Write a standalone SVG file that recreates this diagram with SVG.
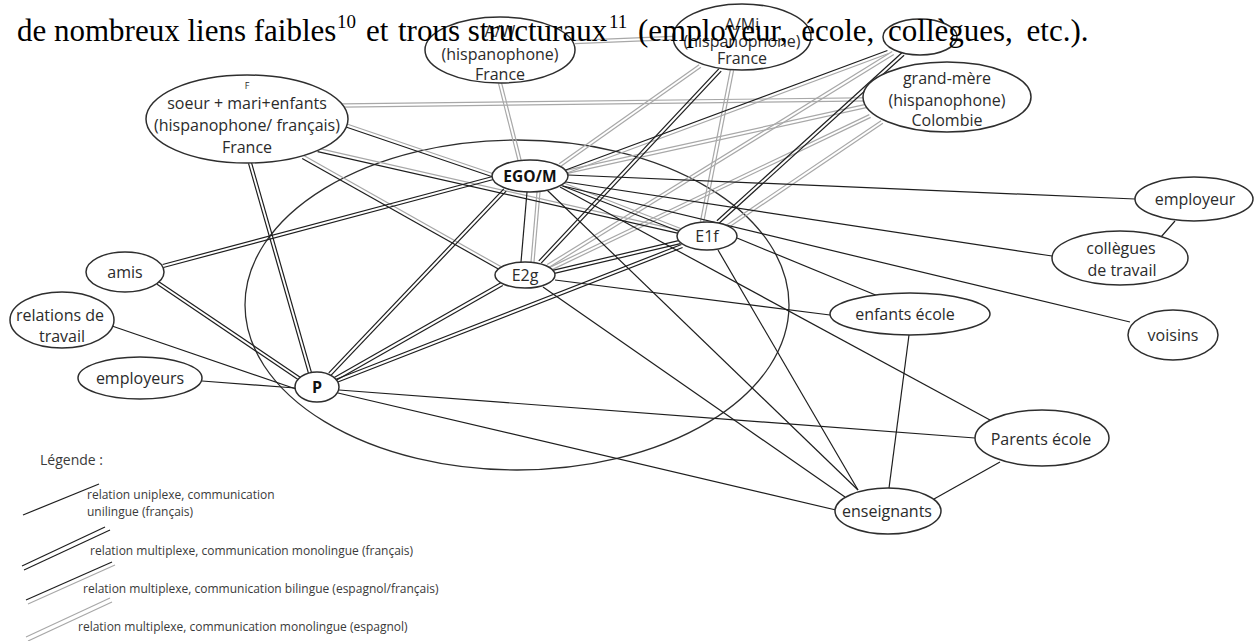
<svg xmlns="http://www.w3.org/2000/svg" width="1255" height="641" viewBox="0 0 1255 641">
<defs>
<style>
.c{stroke:#1e1e1e;stroke-width:1.2;fill:none}
.g{stroke:#a8a8a8;stroke-width:1.2;fill:none}
.n{fill:#fff;stroke:#2e2e2e;stroke-width:1.5}
.t{font-family:"Open Sans","Liberation Sans",sans-serif;font-size:16px;fill:#2b2b2b;text-anchor:middle}
.b{font-weight:bold;fill:#111}
.lg{font-family:"Open Sans","Liberation Sans",sans-serif;font-size:12px;fill:#3a3a3a}
.top{font-family:"Liberation Serif","Times New Roman",serif;font-size:31px;fill:#000}
.sup{font-family:"Liberation Serif","Times New Roman",serif;font-size:19px;fill:#000}
</style>
</defs>
<rect width="1255" height="641" fill="#fff"/>
<ellipse id="cercle" cx="517" cy="305" rx="272" ry="165" fill="none" stroke="#2e2e2e" stroke-width="1.3"/>
<g id="connectors">
<g class="g">
<line x1="300" y1="104.4" x2="900" y2="97.4"/><line x1="300" y1="107.6" x2="900" y2="100.6"/>
<line x1="575" y1="40.4" x2="673" y2="36.4"/><line x1="575" y1="43.6" x2="673" y2="39.6"/>
<line x1="498.5" y1="83.4" x2="518.5" y2="162.4"/><line x1="501.5" y1="82.6" x2="521.5" y2="161.6"/>
<line x1="699.1" y1="64.7" x2="559.1" y2="163.7"/><line x1="700.9" y1="67.3" x2="560.9" y2="166.3"/>
<line x1="730.4" y1="69.7" x2="700.4" y2="221.7"/><line x1="733.6" y1="70.3" x2="703.6" y2="222.3"/>
<line x1="892.2" y1="51.6" x2="547.2" y2="264.6"/><line x1="893.8" y1="54.4" x2="548.8" y2="267.4"/>
<line x1="865.7" y1="104.4" x2="565.7" y2="170.4"/><line x1="866.3" y1="107.6" x2="566.3" y2="173.6"/>
<line x1="869.3" y1="114.6" x2="551.3" y2="266.6"/><line x1="870.7" y1="117.4" x2="552.7" y2="269.4"/>
<line x1="881.1" y1="120.7" x2="727.1" y2="224.7"/><line x1="882.9" y1="123.3" x2="728.9" y2="227.3"/>
<line x1="537" y1="192" x2="531" y2="262"/><line x1="540" y1="192" x2="534" y2="262"/>
<line x1="345.5" y1="123.5" x2="495.5" y2="174.5"/>
<line x1="318.4" y1="148.4" x2="680.4" y2="230.4"/>
<line x1="303.8" y1="155.6" x2="500.8" y2="266.6"/>
<line x1="888.6" y1="53.5" x2="565.6" y2="173.5"/>
<line x1="562.6" y1="182.5" x2="680.6" y2="228.5"/>
</g>
<g class="c">
<line x1="344.5" y1="126.5" x2="494.5" y2="177.5"/>
<line x1="317.6" y1="151.6" x2="679.6" y2="233.6"/>
<line x1="302.2" y1="158.4" x2="499.2" y2="269.4"/>
<line x1="887.4" y1="50.5" x2="564.4" y2="170.5"/>
<line x1="561.4" y1="185.5" x2="679.4" y2="231.5"/>
<line x1="248.5" y1="163.4" x2="308.5" y2="373.4"/><line x1="251.5" y1="162.6" x2="311.5" y2="372.6"/>
<line x1="718.8" y1="68.9" x2="538.8" y2="260.9"/><line x1="721.2" y1="71.1" x2="541.2" y2="263.1"/>
<line x1="901.9" y1="52.8" x2="716.9" y2="220.8"/><line x1="904.1" y1="55.2" x2="719.1" y2="223.2"/>
<line x1="503.8" y1="188.9" x2="328.8" y2="372.9"/><line x1="506.2" y1="191.1" x2="331.2" y2="375.1"/>
<line x1="492.6" y1="176.5" x2="162.6" y2="264.5"/><line x1="493.4" y1="179.5" x2="163.4" y2="267.5"/>
<line x1="679.6" y1="240.4" x2="552.6" y2="270.4"/><line x1="680.4" y1="243.6" x2="553.4" y2="273.6"/>
<line x1="681.4" y1="244.5" x2="335.4" y2="379.5"/><line x1="682.6" y1="247.5" x2="336.6" y2="382.5"/>
<line x1="501.2" y1="282.6" x2="334.2" y2="377.6"/><line x1="502.8" y1="285.4" x2="335.8" y2="380.4"/>
<line x1="157.1" y1="284.3" x2="299.1" y2="380.3"/><line x1="158.9" y1="281.7" x2="300.9" y2="377.7"/>
<line x1="527" y1="192" x2="521" y2="262"/>
<line x1="568" y1="175" x2="1135" y2="199"/>
<line x1="566" y1="182" x2="1052" y2="256"/>
<line x1="563" y1="186" x2="1130" y2="322"/>
<line x1="547" y1="190" x2="858" y2="490"/>
<line x1="560" y1="187" x2="990" y2="420"/>
<line x1="737" y1="238" x2="878" y2="296"/>
<line x1="718" y1="250" x2="858" y2="490"/>
<line x1="555" y1="280" x2="830" y2="315"/>
<line x1="543" y1="287" x2="845" y2="497"/>
<line x1="112" y1="326" x2="296" y2="389"/>
<line x1="202" y1="381" x2="295" y2="388"/>
<line x1="339" y1="390" x2="975" y2="438"/>
<line x1="338" y1="393" x2="836" y2="510"/>
<line x1="1175" y1="221" x2="1161" y2="237"/>
<line x1="909" y1="335" x2="889" y2="488"/>
<line x1="1000" y1="462" x2="934" y2="499"/>
</g>
</g>
<g id="soeur"><ellipse class="n" cx="247" cy="119" rx="101" ry="44"/>
<text class="t" x="247" y="89" style="font-size:9px">F</text>
<text class="t" x="247" y="109">soeur + mari+enfants</text>
<text class="t" x="247" y="131">(hispanophone/ français)</text>
<text class="t" x="247" y="153">France</text></g>
<g id="aw"><ellipse class="n" cx="500" cy="50" rx="75" ry="33"/>
<text class="t" x="500" y="37">A/W</text>
<text class="t" x="500" y="60">(hispanophone)</text>
<text class="t" x="500" y="80">France</text></g>
<g id="ami"><ellipse class="n" cx="742" cy="37" rx="69" ry="33"/>
<text class="t" x="742" y="30">A/Mi</text>
<text class="t" x="742" y="47">(hispanophone)</text>
<text class="t" x="742" y="64">France</text></g>
<g id="n4"><ellipse class="n" cx="920" cy="37" rx="37" ry="18"/></g>
<g id="grandmere"><ellipse class="n" cx="947" cy="97" rx="84" ry="35"/>
<text class="t" x="947" y="84">grand-mère</text>
<text class="t" x="947" y="106">(hispanophone)</text>
<text class="t" x="947" y="126">Colombie</text></g>
<g id="ego"><ellipse class="n" cx="530" cy="176" rx="38" ry="16" stroke-width="2"/>
<text class="t b" x="530" y="182" style="font-size:15.5px">EGO/M</text></g>
<g id="e1f"><ellipse class="n" cx="707" cy="236" rx="30" ry="14"/>
<text class="t" x="707" y="242">E1f</text></g>
<g id="e2g"><ellipse class="n" cx="525" cy="275" rx="30" ry="13"/>
<text class="t" x="525" y="281">E2g</text></g>
<g id="p"><ellipse class="n" cx="317" cy="387" rx="22" ry="15" stroke-width="2"/>
<text class="t b" x="317" y="393">P</text></g>
<g id="amis"><ellipse class="n" cx="125" cy="272" rx="39" ry="20"/>
<text class="t" x="125" y="278">amis</text></g>
<g id="relations"><ellipse class="n" cx="62" cy="320" rx="52" ry="28"/>
<text class="t" x="60" y="321">relations de</text>
<text class="t" x="62" y="342">travail</text></g>
<g id="employeurs"><ellipse class="n" cx="140" cy="378" rx="62" ry="21"/>
<text class="t" x="140" y="384">employeurs</text></g>
<g id="employeur"><ellipse class="n" cx="1194" cy="199" rx="59" ry="22"/>
<text class="t" x="1195" y="205">employeur</text></g>
<g id="collegues"><ellipse class="n" cx="1120" cy="258" rx="68" ry="27"/>
<text class="t" x="1121" y="254">collègues</text>
<text class="t" x="1122" y="276">de travail</text></g>
<g id="voisins"><ellipse class="n" cx="1173" cy="335" rx="45" ry="25"/>
<text class="t" x="1173" y="341">voisins</text></g>
<g id="enfants"><ellipse class="n" cx="910" cy="314" rx="80" ry="21"/>
<text class="t" x="905" y="320">enfants école</text></g>
<g id="parents"><ellipse class="n" cx="1042" cy="438" rx="67" ry="28"/>
<text class="t" x="1041" y="445">Parents école</text></g>
<g id="enseignants"><ellipse class="n" cx="888" cy="511" rx="53" ry="23"/>
<text class="t" x="887" y="517">enseignants</text></g>
<g id="legende">
<text class="lg" x="40" y="465" style="font-size:14px">Légende :</text>
<line class="c" x1="23" y1="515" x2="99" y2="484"/>
<text class="lg" x="87" y="499">relation uniplexe, communication</text>
<text class="lg" x="87" y="516">unilingue (français)</text>
<line class="c" x1="22" y1="566" x2="105" y2="527"/><line class="c" x1="24" y1="570" x2="110" y2="530"/>
<text class="lg" x="90" y="555">relation multiplexe, communication monolingue (français)</text>
<line class="c" x1="26" y1="600" x2="112" y2="562"/><line class="g" x1="28" y1="604" x2="115" y2="565"/>
<text class="lg" x="83" y="593">relation multiplexe, communication bilingue (espagnol/français)</text>
<line class="g" x1="26" y1="637" x2="110" y2="598"/><line class="g" x1="28" y1="641" x2="112" y2="602"/>
<text class="lg" x="78" y="631">relation multiplexe, communication monolingue (espagnol)</text>
</g>
<g id="entete">
<text class="top" x="17" y="41">de nombreux liens faibles</text>
<text class="sup" x="337" y="28">10</text>
<text class="top" x="366" y="41">et</text>
<text class="top" x="398" y="41">trous structuraux</text>
<text class="sup" x="609" y="28">11</text>
<text class="top" x="638" y="41" word-spacing="6">(employeur, école, collègues, etc.).</text>
</g>
</svg>
